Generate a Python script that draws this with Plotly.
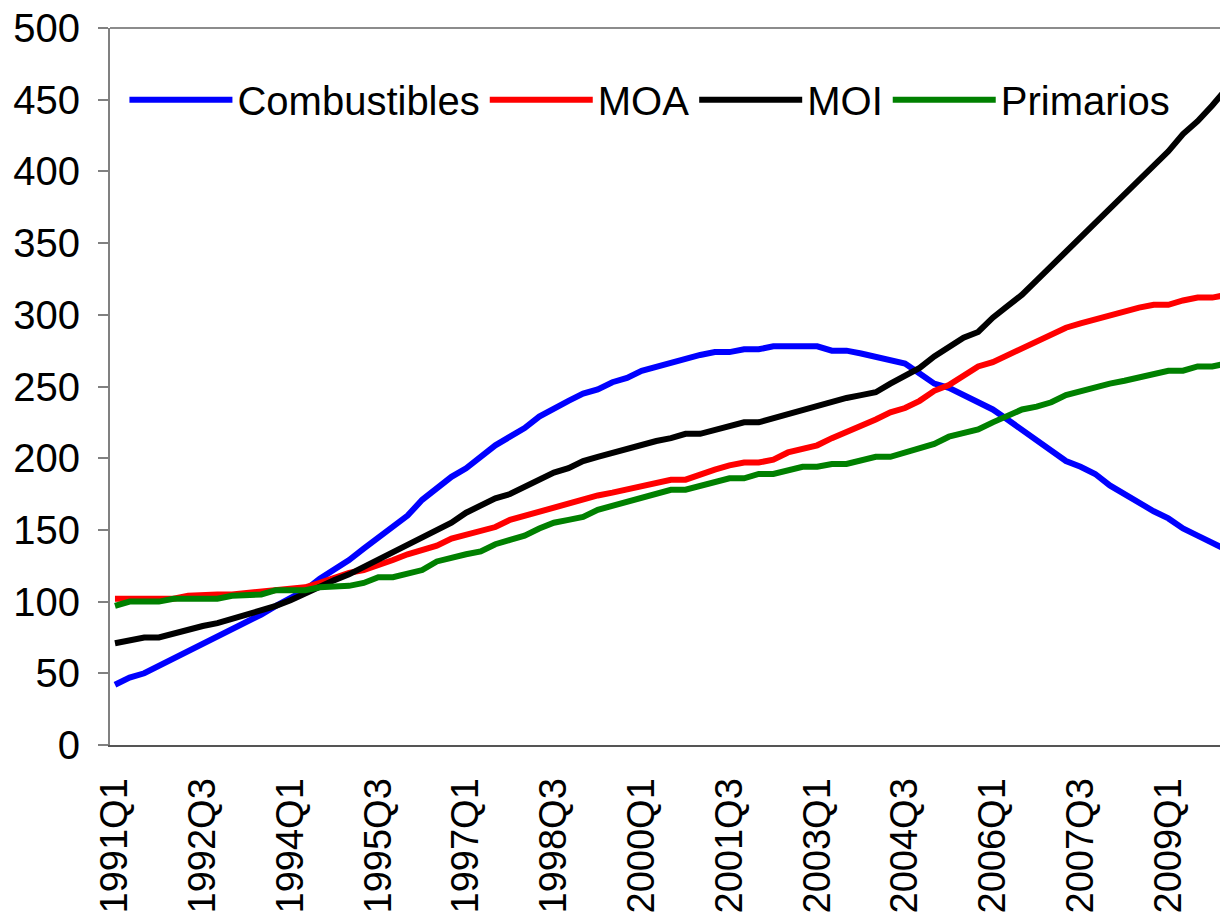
import plotly.graph_objects as go

# quarterly labels 1991Q1 .. 2010Q1
quarters = [f"{y}Q{q}" for y in range(1991, 2011) for q in range(1, 5)][:77]

combustibles = [
    42, 47, 50, 55, 61, 66, 71, 76, 81, 86,
    91, 97, 102, 108, 116, 122, 129, 137, 145, 153,
    160, 171, 179, 187, 193, 201, 209, 215, 221, 229,
    235, 240, 245, 248, 253, 256, 261, 264, 267, 270,
    272, 274, 274, 276, 276, 278, 278, 278, 278, 275,
    275, 273, 271, 268, 266, 259, 252, 249, 244, 239,
    234, 227, 220, 213, 206, 198, 194, 189, 181, 175,
    168, 163, 158, 151, 146, 141, 136,
]
moa = [
    102, 102, 102, 102, 102, 104, 105, 105, 105, 106,
    108, 108, 110, 110, 113, 117, 120, 122, 125, 129,
    133, 136, 139, 144, 147, 149, 152, 157, 160, 163,
    166, 169, 171, 174, 176, 178, 180, 183, 185, 185,
    189, 192, 195, 197, 197, 199, 204, 207, 209, 214,
    218, 222, 227, 232, 235, 240, 247, 251, 257, 264,
    267, 272, 277, 282, 286, 291, 294, 297, 300, 303,
    305, 307, 307, 310, 312, 312, 314,
]
moi = [
    71, 73, 75, 75, 78, 81, 83, 85, 88, 91,
    93, 97, 101, 106, 111, 115, 119, 124, 129, 134,
    139, 145, 150, 155, 162, 167, 172, 175, 180, 185,
    190, 193, 198, 201, 204, 207, 209, 212, 214, 217,
    217, 220, 223, 225, 225, 228, 231, 234, 237, 239,
    242, 244, 246, 252, 257, 263, 271, 277, 284, 288,
    298, 306, 314, 324, 334, 344, 354, 364, 374, 384,
    394, 404, 414, 426, 435, 446, 458,
]
primarios = [
    97, 100, 100, 100, 102, 102, 102, 102, 104, 105,
    105, 108, 108, 108, 110, 110, 111, 113, 117, 117,
    119, 122, 128, 131, 133, 135, 140, 143, 146, 151,
    155, 157, 159, 164, 167, 170, 172, 175, 178, 178,
    181, 183, 186, 186, 189, 189, 192, 194, 194, 196,
    196, 199, 201, 201, 204, 207, 210, 215, 218, 220,
    225, 229, 234, 236, 239, 244, 247, 249, 252, 254,
    256, 259, 261, 261, 264, 264, 266,
]

series = [
    ("Combustibles", combustibles, "#0000ff"),
    ("MOA", moa, "#ff0000"),
    ("MOI", moi, "#000000"),
    ("Primarios", primarios, "#008000"),
]

fig = go.Figure()
for name, vals, color in series:
    fig.add_trace(
        go.Scatter(
            x=quarters,
            y=vals,
            mode="lines",
            name=name,
            line=dict(color=color, width=6),
        )
    )

family = "Liberation Sans, Arial, sans-serif"

fig.update_layout(
    width=1220,
    height=920,
    margin=dict(l=110, r=0, t=28, b=175),
    paper_bgcolor="white",
    plot_bgcolor="white",
    font=dict(family=family, size=40, color="black"),
    showlegend=True,
    legend=dict(
        orientation="h",
        x=0.013,
        y=0.9,
        xanchor="left",
        yanchor="middle",
        font=dict(family=family, size=40, color="black"),
        itemwidth=103,
        bgcolor="rgba(0,0,0,0)",
    ),
    xaxis=dict(
        type="category",
        range=[-0.34, 75.53],
        tickmode="array",
        tickvals=quarters[::6],
        tickangle=-90,
        tickfont=dict(family=family, size=38, color="black"),
        ticks="",
        ticklabelstandoff=16,
        automargin=False,
        showgrid=False,
        showline=True,
        linecolor="#555555",
        linewidth=2,
        zeroline=False,
    ),
    yaxis=dict(
        range=[0, 500],
        dtick=50,
        ticks="outside",
        ticklen=10,
        tickwidth=2,
        tickcolor="#808080",
        ticklabelstandoff=10,
        automargin=False,
        showgrid=False,
        showline=True,
        linecolor="#808080",
        linewidth=2,
        zeroline=False,
    ),
    shapes=[
        dict(
            type="line",
            xref="paper",
            yref="paper",
            x0=0,
            x1=1,
            y0=1,
            y1=1,
            line=dict(color="#8c8c8c", width=2),
        )
    ],
)

# drop the default page margin so the figure sits at the window's corner
fig.write_html(
    "out.html",
    config={"displayModeBar": False},
    post_script="document.body.style.margin='0';document.body.style.overflow='hidden';",
)
